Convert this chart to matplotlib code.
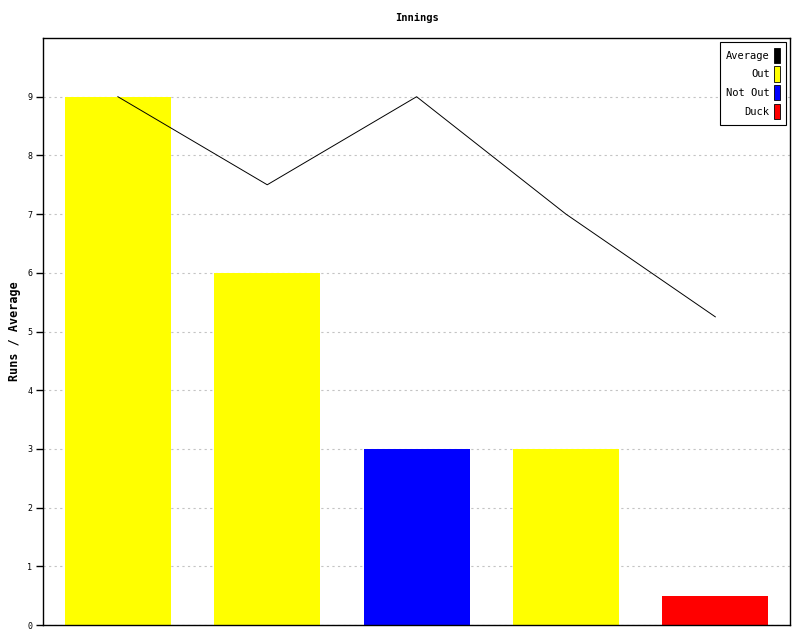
import numpy as np
import matplotlib.pyplot as plt
from matplotlib.patches import Patch

plt.rcParams.update({
    'font.family': ['DejaVu Sans Mono'],
    'font.size': 7,
})

innings = ['1', '2', '3', '4', '5']
runs = [9, 6, 3, 3, 0.5]
kind = ['Out', 'Out', 'Not Out', 'Out', 'Duck']
average = [9, 7.5, 9, 7.0, 5.25]

COLORS = {'Average': '#000000', 'Out': '#ffff00', 'Not Out': '#0000ff', 'Duck': '#ff0000'}

fig = plt.figure(figsize=(8, 6.4), dpi=100)
ax = fig.add_axes([0.054, 0.0234, 0.9335, 0.9172])

x = np.arange(len(innings))
ax.bar(x, runs, width=0.71, color=[COLORS[k] for k in kind], zorder=2)
ax.plot(x, average, color='black', lw=0.7, zorder=3)

ax.set_xlim(-0.5, len(innings) - 0.5)
ax.set_ylim(0, 10)
ax.set_yticks(range(0, 10))
ax.set_xticks([])
ax.yaxis.grid(True, color='#c4c4c4', ls=(0, (2, 3)), lw=0.8, zorder=0)
ax.tick_params(axis='y', length=5, width=1, labelsize=6, pad=3)
for s in ax.spines.values():
    s.set_linewidth(1)

ax.set_ylabel('Runs / Average', fontsize=8.5, fontweight='bold')
ax.yaxis.set_label_coords(-0.03, 0.5)
ax.set_title('Innings', fontsize=7.5, fontweight='bold', pad=12)

handles = [Patch(facecolor=COLORS[k], edgecolor='black', lw=0.6) for k in COLORS]
leg = ax.legend(handles, list(COLORS), loc='upper right', markerfirst=False,
                fancybox=False, edgecolor='black', framealpha=1,
                handlelength=0.6, handleheight=1.9, handletextpad=0.4,
                labelspacing=0.3, borderpad=0.55, fontsize=7.5,
                borderaxespad=0.4)
leg.get_frame().set_linewidth(0.8)
for t in leg.get_texts():
    t.set_ha('right')
leg._legend_box.align = 'right'

fig.savefig('out.png', dpi=100)
